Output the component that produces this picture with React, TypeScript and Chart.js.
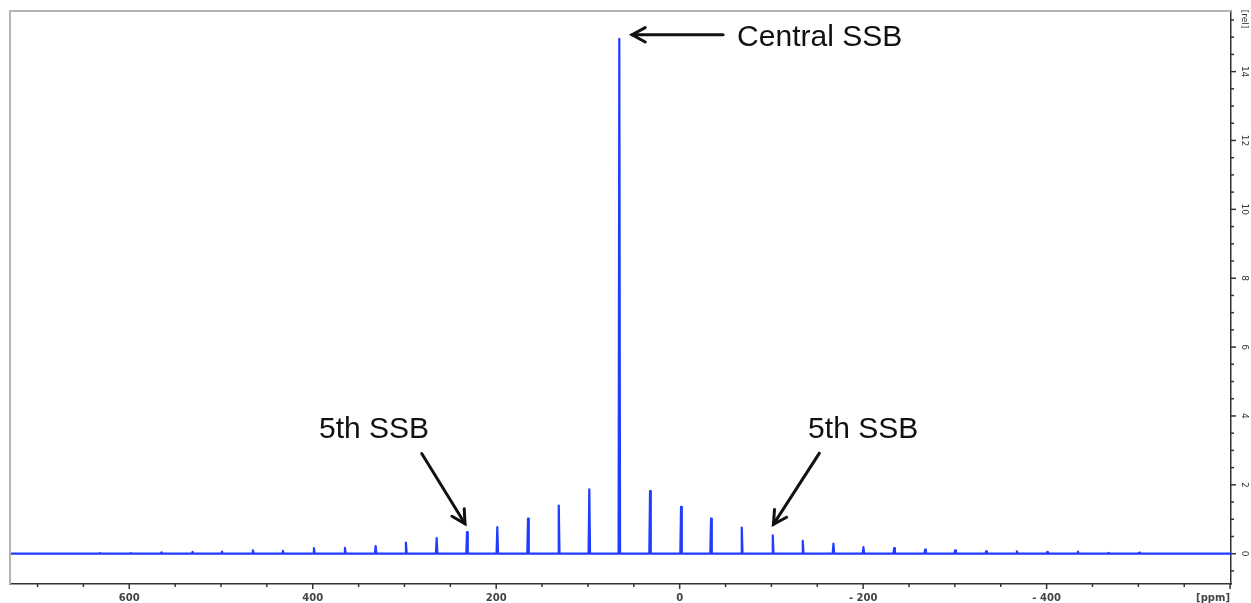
import React, { useEffect, useRef } from "react";
import { Chart, registerables } from "chart.js";

Chart.register(...registerables);

// Sideband positions (ppm) and intensities (rel)
const peakPpm = [
  632.1, 598.3, 564.8, 531.0, 499.0, 465.2, 432.5, 398.7, 364.9, 331.4, 298.4,
  264.9, 231.8, 198.8, 165.3, 131.8, 98.5, 65.8, 32.3, -1.5, -34.2, -67.7,
  -101.5, -134.2, -167.6, -200.3, -233.8, -267.6, -300.3, -334.1, -367.6,
  -400.7, -434.1, -467.2, -501.0,
];
const peakHeight = [
  0.02, 0.02, 0.04, 0.05, 0.06, 0.1, 0.08, 0.16, 0.17, 0.22, 0.32, 0.45, 0.63,
  0.77, 1.02, 1.4, 1.87, 14.95, 1.82, 1.36, 1.02, 0.76, 0.53, 0.37, 0.29, 0.19,
  0.16, 0.12, 0.1, 0.07, 0.07, 0.05, 0.06, 0.02, 0.03,
];
const xRange = [-601, 730];
const yRange = [-0.88, 15.76];

// Annotations (data coordinates): label text, label position, arrow tail, arrow tip
const annLabels = ["Central SSB", "5th SSB", "5th SSB"];
const annTextPos = [
  [-62.6, 14.97, "left"],
  [333.2, 3.61, "center"],
  [-200.0, 3.61, "center"],
];
const annTail = [
  [-47.3, 15.07],
  [281.2, 2.91],
  [-152.3, 2.92],
];
const annTip = [
  [51.9, 15.07],
  [234.0, 0.87],
  [-102.2, 0.85],
];

const LINE_HALF_WIDTH = 0.8;

function buildSpectrum() {
  const pts: { x: number; y: number }[] = [{ x: xRange[1], y: 0 }];
  peakPpm.forEach((p, i) => {
    pts.push({ x: p + LINE_HALF_WIDTH, y: 0 });
    pts.push({ x: p, y: peakHeight[i] });
    pts.push({ x: p - LINE_HALF_WIDTH, y: 0 });
  });
  pts.push({ x: xRange[0], y: 0 });
  return pts;
}

const fmtX = (v: number) => (v < 0 ? "- " + Math.abs(v) : String(v));

const decorPlugin = {
  id: "decor",
  afterDraw(chart: any) {
    const ctx = chart.ctx;
    const ca = chart.chartArea;
    const xs = chart.scales.x;
    const ys = chart.scales.y;
    ctx.save();
    // light frame top/left
    ctx.strokeStyle = "#b4b4b4";
    ctx.lineWidth = 2;
    ctx.beginPath();
    ctx.moveTo(ca.left, ca.bottom);
    ctx.lineTo(ca.left, ca.top);
    ctx.lineTo(ca.right, ca.top);
    ctx.stroke();

    // x ticks
    ctx.strokeStyle = "#333";
    ctx.lineWidth = 1.5;
    ctx.fillStyle = "#444";
    ctx.font = 'bold 10px "DejaVu Sans", sans-serif';
    ctx.textAlign = "center";
    ctx.textBaseline = "middle";
    xs.ticks.forEach((t: any) => {
      const v = t.value;
      const px = xs.getPixelForValue(v);
      const major = Math.abs(v % 200) < 1e-6;
      ctx.beginPath();
      ctx.moveTo(px, ca.bottom);
      ctx.lineTo(px, ca.bottom + (major ? 5 : 3));
      ctx.stroke();
      if (major && v > xRange[0] + 20) {
        ctx.fillText(fmtX(v), px, 598);
      }
    });
    ctx.textAlign = "right";
    ctx.fillText("[ppm]", ca.right - 1, 598);

    // y ticks
    ctx.font = '9px "DejaVu Sans", sans-serif';
    ctx.fillStyle = "#333";
    ys.ticks.forEach((t: any) => {
      const v = t.value;
      const py = ys.getPixelForValue(v);
      const major = Math.abs(v % 2) < 1e-6;
      ctx.beginPath();
      ctx.moveTo(ca.right, py);
      ctx.lineTo(ca.right + (major ? 5 : 3), py);
      ctx.stroke();
      if (major && v >= 0) {
        ctx.save();
        ctx.translate(ca.right + 13, py);
        ctx.rotate(Math.PI / 2);
        ctx.textAlign = "center";
        ctx.textBaseline = "middle";
        ctx.fillText(String(v), 0, 0);
        ctx.restore();
      }
    });
    ctx.save();
    ctx.translate(ca.right + 13, 19);
    ctx.rotate(Math.PI / 2);
    ctx.textAlign = "center";
    ctx.textBaseline = "middle";
    ctx.fillText("[rel]", 0, 0);
    ctx.restore();

    // annotations
    ctx.strokeStyle = "#111";
    ctx.fillStyle = "#111";
    ctx.lineWidth = 3;
    ctx.lineCap = "round";
    ctx.lineJoin = "miter";
    ctx.font = '30px "Liberation Sans", Arial, sans-serif';
    annLabels.forEach((lab, i) => {
      const [tx, ty, align] = annTextPos[i] as [number, number, string];
      ctx.textAlign = align as CanvasTextAlign;
      ctx.textBaseline = "middle";
      ctx.fillText(lab, xs.getPixelForValue(tx), ys.getPixelForValue(ty));
      const x0 = xs.getPixelForValue(annTail[i][0]);
      const y0 = ys.getPixelForValue(annTail[i][1]);
      const x1 = xs.getPixelForValue(annTip[i][0]);
      const y1 = ys.getPixelForValue(annTip[i][1]);
      ctx.beginPath();
      ctx.moveTo(x0, y0);
      ctx.lineTo(x1, y1);
      ctx.stroke();
      const ang = Math.atan2(y1 - y0, x1 - x0);
      const hl = 15;
      const ha = 0.5;
      ctx.beginPath();
      ctx.moveTo(x1 - hl * Math.cos(ang - ha), y1 - hl * Math.sin(ang - ha));
      ctx.lineTo(x1, y1);
      ctx.lineTo(x1 - hl * Math.cos(ang + ha), y1 - hl * Math.sin(ang + ha));
      ctx.stroke();
    });
    ctx.restore();
  },
};

export default function App() {
  const ref = useRef<HTMLCanvasElement>(null);
  useEffect(() => {
    if (!ref.current) return;
    const chart = new Chart(ref.current, {
      type: "line",
      data: {
        datasets: [
          {
            data: buildSpectrum(),
            borderColor: "#1f3cff",
            borderWidth: 2.2,
            borderJoinStyle: "round",
            pointRadius: 0,
            tension: 0,
            fill: false,
          },
        ],
      },
      options: {
        animation: false,
        responsive: false,
        events: [],
        layout: { padding: { left: 10, top: 11, right: 0, bottom: 0 } },
        plugins: { legend: { display: false }, tooltip: { enabled: false } },
        scales: {
          x: {
            type: "linear",
            reverse: true,
            min: xRange[0],
            max: xRange[1],
            ticks: { stepSize: 50, display: false, includeBounds: false },
            grid: { display: false, drawTicks: false },
            border: { display: true, color: "#333", width: 1.5 },
            afterFit: (s: any) => {
              s.height = 19;
            },
          },
          y: {
            type: "linear",
            position: "right",
            min: yRange[0],
            max: yRange[1],
            ticks: { stepSize: 0.5, display: false, includeBounds: false },
            grid: { display: false, drawTicks: false },
            border: { display: true, color: "#333", width: 1.5 },
            afterFit: (s: any) => {
              s.width = 20;
            },
          },
        },
      } as any,
      plugins: [decorPlugin],
    });
    return () => chart.destroy();
  }, []);
  return (
    <div style={{ position: "fixed", left: 0, top: 0, width: 1251, height: 603, background: "#fff" }}>
      <canvas ref={ref} width={1251} height={603} />
    </div>
  );
}
